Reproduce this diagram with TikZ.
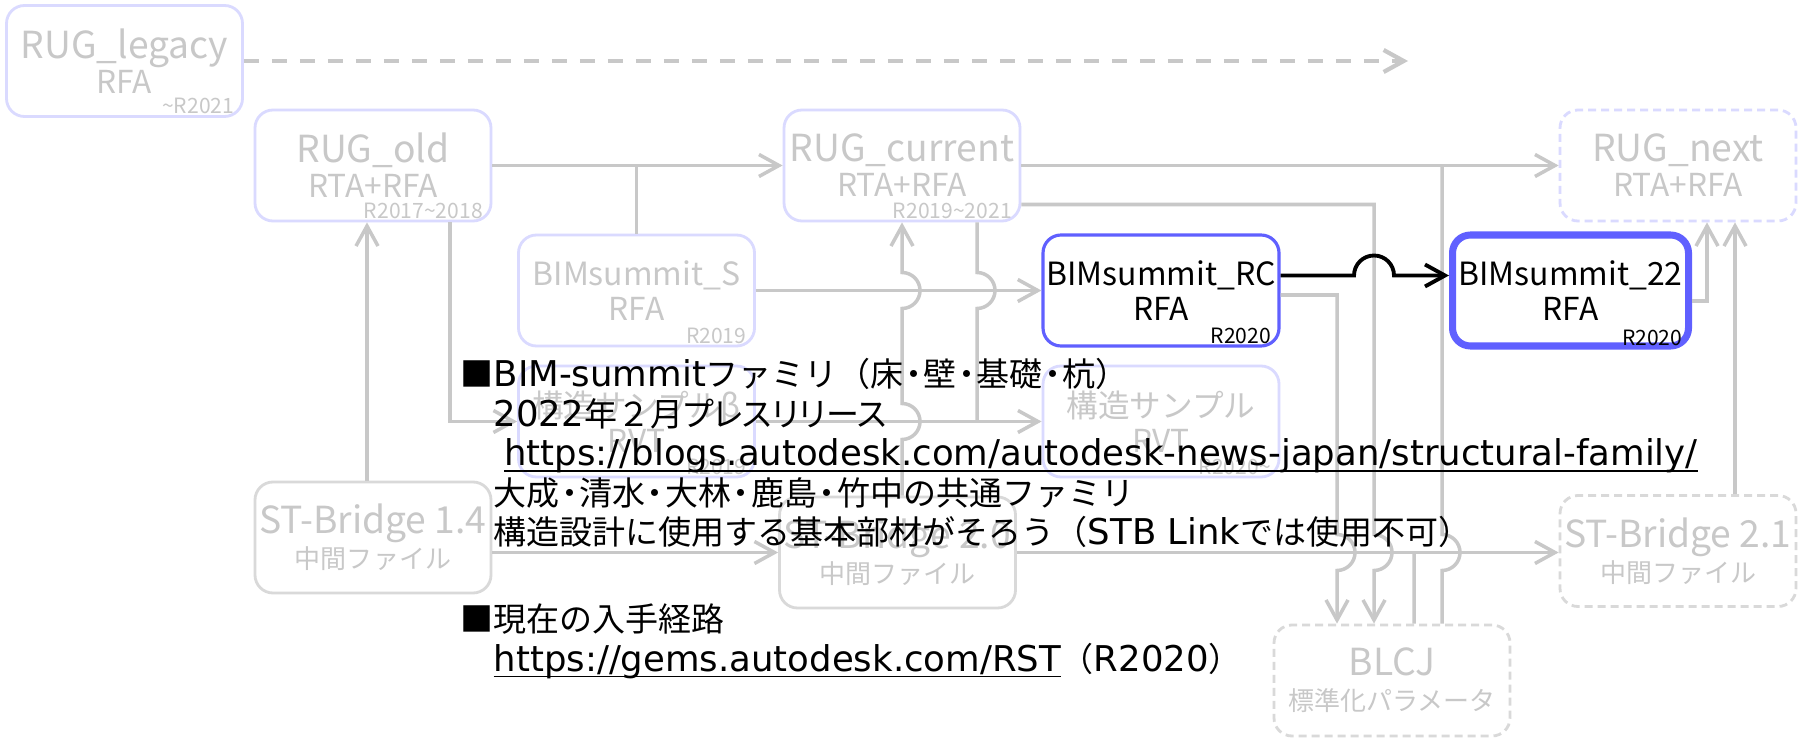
\documentclass[tikz,border=0pt]{standalone}
\usepackage{fontspec}
\usepackage{tikz}
\usetikzlibrary{positioning,arrows.meta}

\setmainfont{DejaVu Sans}
\newfontfamily\boxfont{Noto Sans CJK JP}
\newfontfamily\jn[Scale=0.93]{Noto Sans CJK JP}

\definecolor{lav}{RGB}{218,218,255}
\definecolor{boxgray}{RGB}{217,217,217}
\definecolor{grayt}{RGB}{200,200,200}
\definecolor{linegray}{RGB}{200,200,200}
\definecolor{blu}{RGB}{96,96,255}

\newcommand\bigt[1]{{\fontsize{10.6}{9.96}\selectfont #1}}
\newcommand\midt[1]{{\fontsize{9.1}{9.96}\selectfont #1}}
\newcommand\jpt[1]{{\fontsize{9}{9.96}\selectfont #1}}
\newcommand\jps[1]{{\fontsize{7.4}{9.96}\selectfont #1}}
\newcommand\dotjp{\makebox[0.6em]{・}}
\newcommand\ulink[1]{\underline{\smash{#1}}}

\begin{document}
\begin{tikzpicture}[
    famnode/.style={rectangle, rounded corners=1.8mm, minimum width=2.36cm, minimum height=1.11cm, inner sep=0pt, align=center, line width=0.8pt, font={\boxfont\fontsize{9}{9.96}\selectfont\lineskiplimit=-20pt\relax}},
    pale/.style={famnode, draw=lav, text=grayt},
    palegray/.style={famnode, draw=boxgray, text=grayt},
    hot/.style={famnode, draw=blu, text=black, line width=0.9pt},
    planned/.style={dash pattern=on 0.8mm off 0.5mm},
    ver/.style={anchor=south east, xshift=-0.9mm, yshift=0.3mm, inner sep=0pt, text=grayt, font=\boxfont\fontsize{6}{7}\selectfont},
    verhot/.style={ver, text=black},
    conn/.style={draw=linegray, line width=1pt},
    flow/.style={conn, -{Straight Barb[length=2mm, width=2.2mm]}},
    dflow/.style={flow, line width=1.2pt, dash pattern=on 1.5mm off 1.3mm},
    hotflow/.style={draw=black, line width=1.1pt, -{Straight Barb[length=2mm, width=2.2mm]}},
    notes/.style={align=left, inner sep=0pt, font=\fontsize{10.1}{11.24}\selectfont}
]
\path[use as bounding box, fill=white] (0,0) rectangle (17.99,7.39);

% Families
\node[pale, label={[ver]south east:\textasciitilde R2021}] (legacy) at (1.245,6.78) {\bigt{RUG\_legacy}\\RFA};
\node[pale, label={[ver]south east:R2017\textasciitilde 2018}] (old) at (3.73,5.735) {\bigt{RUG\_old}\\RTA+RFA};
\node[pale, label={[ver]south east:R2019\textasciitilde 2021}] (current) at (9.02,5.735) {\bigt{RUG\_current}\\RTA+RFA};
\node[pale, planned] (next) at (16.78,5.735) {\bigt{RUG\_next}\\RTA+RFA};
\node[pale, label={[ver]south east:R2019}] (S) at (6.365,4.485) {\midt{BIMsummit\_S}\\RFA};
\node[hot, label={[verhot]south east:R2020}] (RC) at (11.61,4.485) {\midt{BIMsummit\_RC}\\RFA};
\node[hot, line width=2pt, label={[verhot]south east:R2020}] (b22) at (15.705,4.485) {\midt{BIMsummit\_22}\\RFA};
\node[pale, label={[ver]south east:R2019}] (betaS) at (6.365,3.175) {\jpt{構造サンプルβ}\\RVT};
\node[pale, label={[ver]south east:R2020\textasciitilde}] (samp) at (11.61,3.175) {\jpt{構造サンプル}\\RVT};

% Exchange formats
\node[palegray] (stb14) at (3.73,2.015) {\bigt{ST-Bridge 1.4}\\\jps{中間ファイル}};
\node[palegray] (stb20) at (8.975,1.865) {\bigt{ST-Bridge 2.0}\\\jps{中間ファイル}};
\node[palegray, planned] (stb21) at (16.78,1.88) {\bigt{ST-Bridge 2.1}\\\jps{中間ファイル}};
\node[palegray, planned] (blcj) at (13.92,0.585) {\bigt{BLCJ}\\\jps{標準化パラメータ}};

% Arrows
\coordinate (legacyend) at (14.08,6.78);
\draw[dflow] (legacy) -- (legacyend);
\draw[flow] (old.east) -- (current.west);
\draw[conn] (S.north) -- (S.north |- old.east);
\draw[flow] (current.east) -- (next.west);
\draw[flow] ([xshift=-0.6mm]stb14.north) -- ([xshift=-0.6mm]old.south);
\draw[flow] ([xshift=7.7mm]old.south) |- (betaS.west);
\draw[flow] (S.east) -- (RC.west);
\draw[flow] (betaS.east) -- (samp.west);
\draw[conn] ([xshift=7.5mm]current.south) -- (9.77,4.665) arc[start angle=90, end angle=-90, radius=0.18] -- (9.77,3.175);
\draw[flow] ([xshift=0.45mm]stb20.north) -- (9.02,2.995) arc[start angle=-90, end angle=90, radius=0.18] -- (9.02,4.305) arc[start angle=-90, end angle=90, radius=0.18] -- (current.south);
\draw[flow] (stb14.east |- stb20.west) -- (stb20.west);
\draw[flow] (stb20.east) -- (stb20.east -| stb21.west);
\draw[flow] ([yshift=-3.9mm]current.east) -| (13.74,2.045) arc[start angle=90, end angle=-90, radius=0.18] -- ([xshift=-1.8mm]blcj.north);
\draw[flow] ([yshift=-0.45mm]RC.east) -| (13.37,2.045) arc[start angle=90, end angle=-90, radius=0.18] -- ([xshift=-5.5mm]blcj.north);
\draw[conn] ([xshift=2.2mm]blcj.north) -- (14.14,1.865);
\draw[conn] ([xshift=5mm]blcj.north) -- (14.42,1.685) arc[start angle=-90, end angle=90, radius=0.18] -- (14.42,5.735);
\draw[flow] ([yshift=-1.05mm]b22.east) -| ([xshift=2.9mm]next.south);
\draw[flow] ([xshift=5.7mm]stb21.north) -- ([xshift=5.7mm]next.south);
\draw[hotflow] ([yshift=1.5mm]RC.east) -- (13.54,4.635) arc[start angle=180, end angle=0, radius=0.2] -- ([yshift=1.5mm]b22.west);

% Notes
\node[notes, anchor=north west] (memo) at (4.93,3.81) {%
\llap{{\jn ■}}BIM-summit{\jn ファミリ（床\dotjp 壁\dotjp 基礎\dotjp 杭）}\\
2022{\jn 年２月}{\jn\addfontfeature{RawFeature=+palt}プレスリリース}\\
\hspace{0.3em}\ulink{https://blogs.autodesk.com/autodesk-news-japan/structural-family/}\\
{\jn 大成\dotjp 清水\dotjp 大林\dotjp 鹿島\dotjp 竹中の共通ファミリ}\\
{\jn 構造設計に使用する基本部材がそろう（}STB Link{\jn では使用不可）}\\[13.5pt]
\llap{{\jn ■}}{\jn 現在の入手経路}\\
\ulink{https://gems.autodesk.com/RST}{\jn （}R2020{\jn ）}};

\end{tikzpicture}
\end{document}
